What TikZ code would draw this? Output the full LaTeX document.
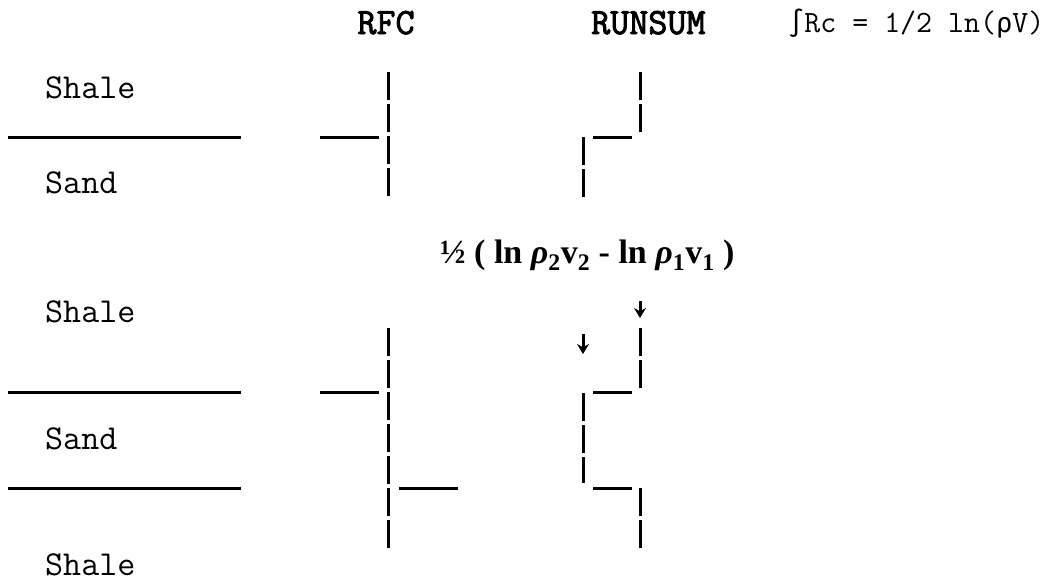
\documentclass[tikz,border=0pt]{standalone}
\usepackage{fontspec}
\setmainfont{Liberation Serif}
\newfontfamily\symfont{DejaVu Sans Mono}
\newfontfamily\headfont[FakeBold=2.5]{Latin Modern Mono}
\usetikzlibrary{arrows.meta}
\newcommand{\sym}[1]{{\symfont\fontsize{27}{27}\selectfont #1}}
\tikzset{
  lab/.style={font=\ttfamily\fontsize{35}{35}\selectfont, anchor=base west, inner sep=0pt},
  head/.style={font=\headfont\fontsize{37}{37}\selectfont, anchor=base, inner sep=0pt},
  trace/.style={line width=3pt, dash pattern=on 28pt off 4pt},
  jump/.style={line width=3pt},
  tick/.style={line width=3pt, -{Stealth[length=10pt,width=12pt]}}
}
\begin{document}
\begin{tikzpicture}[x=1pt,y=-1pt]
		\useasboundingbox (0,0) rectangle (1061,581);

		% headings
		\node[head] (rfc) at (386,34) {RFC};
		\node[head, anchor=base west] (runsum) at (591,34) {RUNSUM};
		\node[lab, font=\ttfamily\fontsize{31}{31}\selectfont] (eqn) at (788,32) {\sym{∫}Rc = 1/2 ln(\sym{ρ}V)};

		% layers
		\node[lab] (shaleA) at (45,98) {Shale};
		\node[lab] (sandA) at (45,193) {Sand};
		\node[lab] (shaleB) at (45,322) {Shale};
		\node[lab] (sandB) at (45,449) {Sand};
		\node[lab] (shaleC) at (45,575) {Shale};
		\draw[jump] (8,137) -- (241,137);
		\draw[jump] (8,392) -- (241,392);
		\draw[jump] (8,488) -- (241,488);

		% top: RFC
		\draw[jump] (320,137) -- (379,137);
		\draw[trace] (388,72) -- (388,197);
		% top: RUNSUM
		\draw[trace] (640,72) -- (640,132);
		\draw[jump] (593,137) -- (632,137);
		\draw[trace] (583,137) -- (583,197);

		\node[font=\bfseries\fontsize{34}{34}\selectfont, anchor=base west, inner sep=0pt] (diff) at (440,263)
			{½ ( ln \textit{ρ}\textsubscript{2}v\textsubscript{2} - ln \textit{ρ}\textsubscript{1}v\textsubscript{1} )};

		% bottom: RFC
		\draw[trace] (388,328) -- (388,548);
		\draw[jump] (320,392) -- (379,392);
		\draw[jump] (399,488) -- (458,488);
		% bottom: RUNSUM
		\draw[trace] (640,328) -- (640,388);
		\draw[jump] (593,392) -- (632,392);
		\draw[trace] (583,393) -- (583,483);
		\draw[jump] (593,488) -- (632,488);
		\draw[trace] (640,488) -- (640,548);
		\draw[tick] (640,301) -- (640,318);
		\draw[tick] (583,334) -- (583,354);
	\end{tikzpicture}
\end{document}
